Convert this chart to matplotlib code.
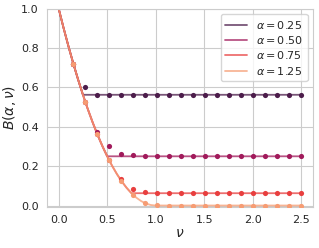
import numpy as np
import matplotlib
matplotlib.use("Agg")
import matplotlib.pyplot as plt
import seaborn as sns

sns.set_style("whitegrid")
plt.rcParams['font.family'] = ['DejaVu Sans']

alphas = [0.25, 0.50, 0.75, 1.25]
labels = [r"$\alpha = 0.25$", r"$\alpha = 0.50$", r"$\alpha = 0.75$", r"$\alpha = 1.25$"]

# theoretical curves
nu_line = [0.0, 0.05, 0.1, 0.15, 0.2, 0.25, 0.3, 0.35, 0.4, 0.45, 0.5, 0.55, 0.6,
           0.65, 0.7, 0.75, 0.8, 0.85, 0.9, 0.95, 1.0, 1.5, 2.0, 2.5]
line_a025 = [1.0, 0.9025, 0.81, 0.7225, 0.64, 0.5625, 0.5625, 0.5625, 0.5625, 0.5625, 0.5625, 0.5625, 0.5625,
             0.5625, 0.5625, 0.5625, 0.5625, 0.5625, 0.5625, 0.5625, 0.5625, 0.5625, 0.5625, 0.5625]
line_a050 = [1.0, 0.9025, 0.81, 0.7225, 0.64, 0.5625, 0.49, 0.4225, 0.36, 0.3025, 0.25, 0.25, 0.25,
             0.25, 0.25, 0.25, 0.25, 0.25, 0.25, 0.25, 0.25, 0.25, 0.25, 0.25]
line_a075 = [1.0, 0.9025, 0.81, 0.7225, 0.64, 0.5625, 0.49, 0.4225, 0.36, 0.3025, 0.25, 0.2025, 0.16,
             0.1225, 0.09, 0.0625, 0.0625, 0.0625, 0.0625, 0.0625, 0.0625, 0.0625, 0.0625, 0.0625]
line_a125 = [1.0, 0.9025, 0.81, 0.7225, 0.64, 0.5625, 0.49, 0.4225, 0.36, 0.3025, 0.25, 0.2025, 0.16,
             0.1225, 0.09, 0.0625, 0.04, 0.0225, 0.01, 0.0025, 0.0, 0.0, 0.0, 0.0]
lines = [line_a025, line_a050, line_a075, line_a125]

# simulated points
nu_pts = [0.15, 0.274, 0.397, 0.521, 0.645, 0.768, 0.892, 1.016, 1.139, 1.263,
          1.387, 1.511, 1.634, 1.758, 1.882, 2.005, 2.129, 2.253, 2.376, 2.5]
pts_a025 = [0.72, 0.60, 0.563, 0.562, 0.561, 0.563, 0.561, 0.560, 0.562, 0.561,
            0.562, 0.561, 0.560, 0.562, 0.561, 0.562, 0.561, 0.561, 0.562, 0.561]
pts_a050 = [0.72, 0.527, 0.375, 0.30, 0.262, 0.256, 0.252, 0.251, 0.250, 0.251,
            0.250, 0.251, 0.250, 0.250, 0.251, 0.250, 0.251, 0.250, 0.250, 0.250]
pts_a075 = [0.72, 0.527, 0.364, 0.229, 0.135, 0.085, 0.068, 0.066, 0.064, 0.064,
            0.063, 0.063, 0.063, 0.063, 0.063, 0.063, 0.063, 0.063, 0.063, 0.063]
pts_a125 = [0.72, 0.527, 0.364, 0.229, 0.126, 0.054, 0.012, 0.001, 0.0, 0.0,
            0.0, 0.0, 0.0, 0.0, 0.0, 0.0, 0.0, 0.0, 0.0, 0.0]
pts = [pts_a025, pts_a050, pts_a075, pts_a125]

colors = sns.color_palette("rocket", 4)

fig = plt.figure(figsize=(3.19, 2.48), dpi=100)
ax = fig.add_axes([0.146, 0.165, 0.836, 0.80])

for y, p, c, lab in zip(lines, pts, colors, labels):
    ax.plot(nu_line, y, color=c, lw=1.3, alpha=0.75, label=lab)
    ax.scatter(nu_pts, p, color=c, s=14, zorder=3, linewidths=0)

ax.set_xlim(-0.125, 2.625)
ax.set_ylim(-0.008, 1.0)
ax.set_xticks([0.0, 0.5, 1.0, 1.5, 2.0, 2.5])
ax.set_yticks([0.0, 0.2, 0.4, 0.6, 0.8, 1.0])
ax.tick_params(labelsize=8, pad=2)
ax.set_xlabel(r"$\nu$", fontsize=10, labelpad=1)
ax.set_ylabel(r"$B(\alpha, \nu)$", fontsize=10, labelpad=2)
ax.legend(loc="upper right", fontsize=8, handlelength=2.0, borderpad=0.4, labelspacing=0.3)

fig.savefig("out.png", dpi=100)
